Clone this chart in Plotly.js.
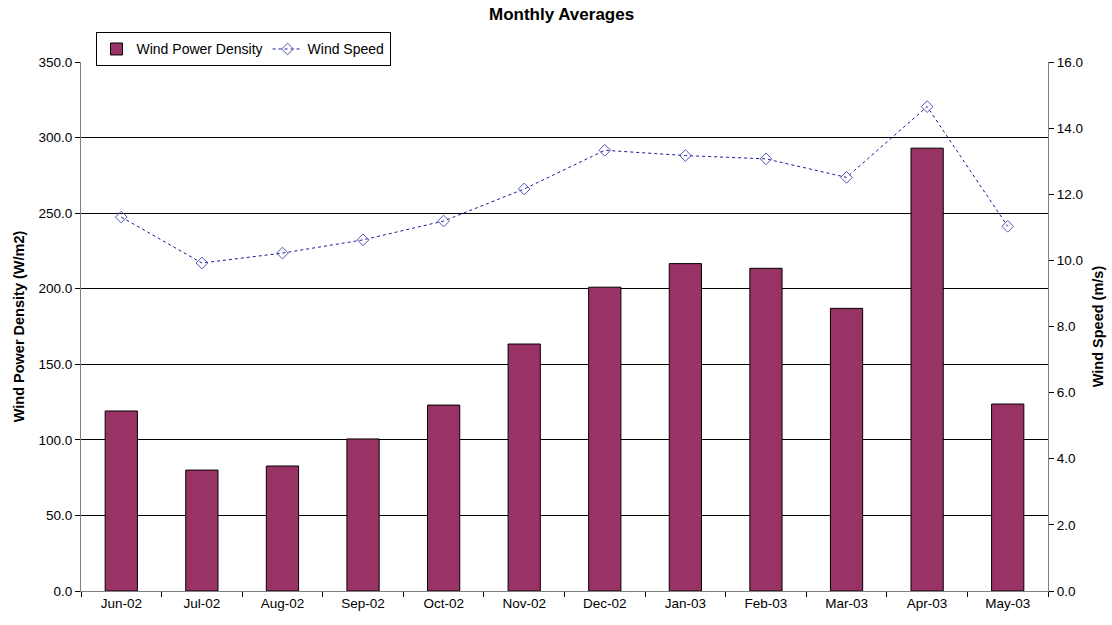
<!DOCTYPE html>
<html>
<head>
<meta charset="utf-8">
<script src="https://cdn.plot.ly/plotly-3.0.1.min.js"></script>
<style>html,body{margin:0;padding:0;background:#fff;}#chart{width:1112px;height:625px;}</style>
</head>
<body>
<div id="chart"></div>
<script>
const months = ["Jun-02","Jul-02","Aug-02","Sep-02","Oct-02","Nov-02","Dec-02","Jan-03","Feb-03","Mar-03","Apr-03","May-03"];
const powerDensity = [119.1, 80.0, 82.7, 100.6, 123.0, 163.4, 201.0, 216.6, 213.5, 187.0, 293.0, 123.7];
const windSpeed = [11.31, 9.92, 10.22, 10.62, 11.19, 12.16, 13.33, 13.17, 13.07, 12.51, 14.65, 11.03];

const font = "Liberation Sans, Arial, sans-serif";
const traces = [
  {
    type: "bar", name: "Wind Power Density", x: months, y: powerDensity,
    marker: {color: "#993366", line: {color: "#000000", width: 1}},
    width: 0.4, yaxis: "y"
  },
  {
    type: "scatter", mode: "lines+markers", name: "Wind Speed", x: months, y: windSpeed,
    line: {color: "#1a1a99", width: 1, dash: "3px,3px"},
    marker: {symbol: "diamond-open", size: 9, color: "#5555bb", line: {width: 1}},
    yaxis: "y2"
  }
];
const layout = {
  width: 1112, height: 625,
  margin: {l: 81, r: 64, t: 62, b: 34},
  paper_bgcolor: "#fff", plot_bgcolor: "#fff",
  font: {family: font, size: 13.5, color: "#000"},
  title: {text: "<b>Monthly Averages</b>", x: 0.505, xanchor: "center", y: 0.978, yanchor: "middle", font: {family: font, size: 17}},
  showlegend: true,
  legend: {orientation: "h", x: 0.015, xanchor: "left", y: 1.056, yanchor: "top",
    bordercolor: "#000", borderwidth: 1, bgcolor: "#fff", font: {family: font, size: 14},
    tracegroupgap: 0, itemwidth: 30},
  xaxis: {type: "category", range: [-0.5, 11.5], autorange: false, showline: true, linecolor: "#808080", linewidth: 1,
    ticks: "outside", tickson: "boundaries", ticklen: 5, tickcolor: "#000",
    showgrid: false, tickfont: {family: font, size: 13.5}, mirror: false},
  yaxis: {range: [0, 350], dtick: 50, tickformat: ".1f", showline: true, linecolor: "#808080",
    ticks: "outside", ticklen: 5, tickcolor: "#000", gridcolor: "#000", gridwidth: 1,
    zeroline: false, tickfont: {family: font, size: 13.5},
    title: {text: "<b>Wind Power Density (W/m2)</b>", font: {family: font, size: 14.5}, standoff: 10}},
  yaxis2: {range: [0, 16], dtick: 2, tickformat: ".1f", overlaying: "y", side: "right",
    showline: true, linecolor: "#808080", ticks: "outside", ticklen: 5, tickcolor: "#000",
    showgrid: false, zeroline: false, tickfont: {family: font, size: 13.5},
    title: {text: "<b>Wind Speed (m/s)</b>", font: {family: font, size: 14.5}, standoff: 10}},
  bargap: 0.6
};
Plotly.newPlot("chart", traces, layout, {displayModeBar: false, staticPlot: true});
</script>
</body>
</html>
